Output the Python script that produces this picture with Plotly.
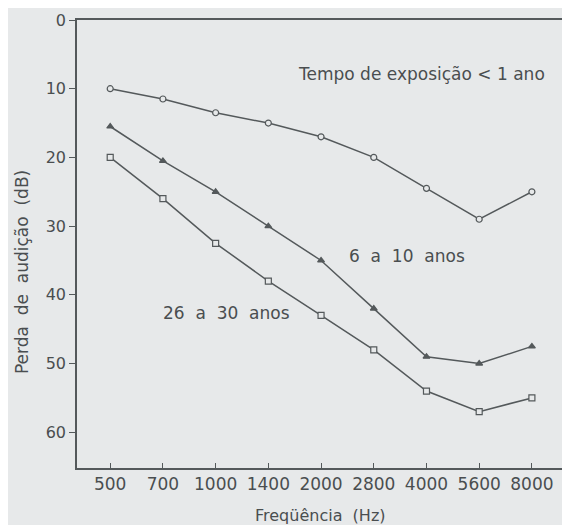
import plotly.graph_objects as go

freq_labels = ["500", "700", "1000", "1400", "2000", "2800", "4000", "5600", "8000"]
lt1_ano = [10, 11.5, 13.5, 15, 17, 20, 24.5, 29, 25]
anos_6_10 = [15.5, 20.5, 25, 30, 35, 42, 49, 50, 47.5]
anos_26_30 = [20, 26, 32.5, 38, 43, 48, 54, 57, 55]
y_ticks = [0, 10, 20, 30, 40, 50, 60]

line_col = "#54595b"
text_col = "#4a4e50"
bg = "#e7e9ea"
font_fam = "DejaVu Sans"

x_idx = list(range(len(freq_labels)))

fig = go.Figure()
series = [
    (lt1_ano, "circle", bg),
    (anos_6_10, "triangle-up", line_col),
    (anos_26_30, "square", bg),
]
for vals, sym, fill in series:
    fig.add_trace(go.Scatter(
        x=x_idx, y=vals, mode="lines+markers",
        line=dict(color=line_col, width=1.5),
        marker=dict(symbol=sym, size=6, color=fill,
                    line=dict(color=line_col, width=1.2)),
        showlegend=False,
    ))

annots = [
    (5.9, 7.9, "Tempo de exposição < 1 ano"),
    (5.63, 34.3, "6  a  10  anos"),
    (2.2, 42.6, "26  a  30  anos"),
]
for x, y, t in annots:
    fig.add_annotation(x=x, y=y, text=t, showarrow=False,
                       font=dict(family=font_fam, size=17, color=text_col))

# axis titles
fig.add_annotation(xref="paper", yref="paper", x=-0.113, y=0.4375,
                   xanchor="center", yanchor="middle",
                   text="Perda  de  audição  (dB)", textangle=-90, showarrow=False,
                   font=dict(family=font_fam, size=17, color=text_col))
fig.add_annotation(xref="paper", yref="paper", x=0.5, y=-0.105,
                   xanchor="center", yanchor="middle",
                   text="Freqüência  (Hz)", showarrow=False,
                   font=dict(family=font_fam, size=16, color=text_col))

fig.update_layout(
    width=570, height=525,
    margin=dict(l=69, r=15, t=12, b=65),
    paper_bgcolor=bg, plot_bgcolor=bg,
    font=dict(family=font_fam, size=15, color=text_col),
    xaxis=dict(
        range=[-0.63, 8.59], tickmode="array", tickvals=x_idx, ticktext=freq_labels,
        ticks="inside", ticklen=5, tickcolor=line_col, showgrid=False, zeroline=False,
        showline=True, linecolor=line_col, linewidth=1.5, mirror=True, automargin=False,
        tickfont=dict(size=17),
    ),
    yaxis=dict(
        range=[65.2, 0], tickmode="array", tickvals=y_ticks,
        ticks="outside", ticklen=6, tickcolor=line_col, showgrid=False, zeroline=False,
        showline=True, linecolor=line_col, linewidth=1.5, mirror=True, automargin=False,
        tickfont=dict(size=16),
    ),
)

fig.write_html("out.html")
